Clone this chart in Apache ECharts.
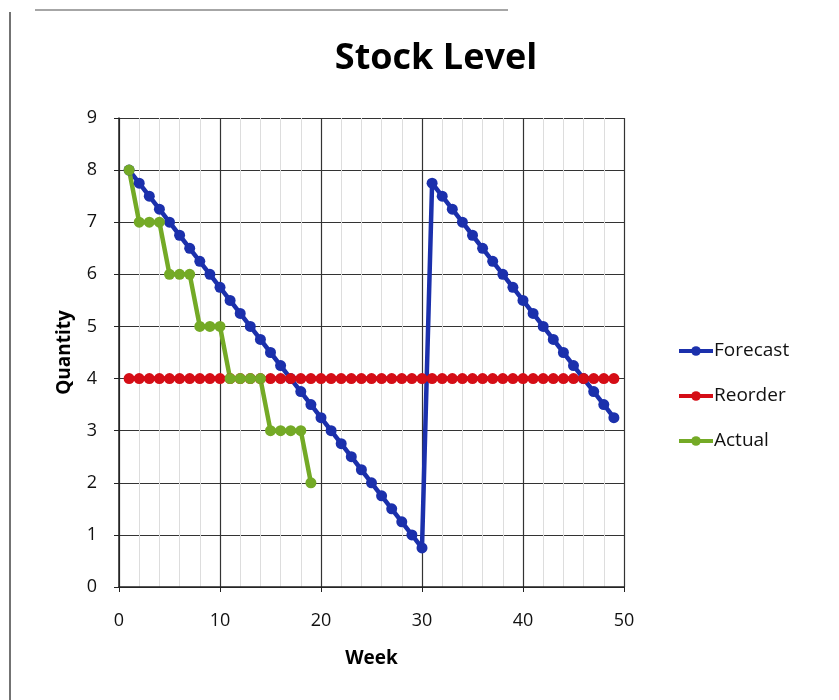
<!DOCTYPE html>
<html><head><meta charset="utf-8">
<script src="https://cdn.jsdelivr.net/npm/echarts@6/dist/echarts.min.js"></script>
<style>html,body{margin:0;padding:0;background:#fff;}#c{width:839px;height:700px;}</style>
</head><body><div id="c"></div>
<script>
const weeks = [1,2,3,4,5,6,7,8,9,10,11,12,13,14,15,16,17,18,19,20,21,22,23,24,25,26,27,28,29,30,31,32,33,34,35,36,37,38,39,40,41,42,43,44,45,46,47,48,49];
const forecast = [8,7.75,7.5,7.25,7,6.75,6.5,6.25,6,5.75,5.5,5.25,5,4.75,4.5,4.25,4,3.75,3.5,3.25,3,2.75,2.5,2.25,2,1.75,1.5,1.25,1,0.75,7.75,7.5,7.25,7,6.75,6.5,6.25,6,5.75,5.5,5.25,5,4.75,4.5,4.25,4,3.75,3.5,3.25];
const reorder = [4,4,4,4,4,4,4,4,4,4,4,4,4,4,4,4,4,4,4,4,4,4,4,4,4,4,4,4,4,4,4,4,4,4,4,4,4,4,4,4,4,4,4,4,4,4,4,4,4];
const actualWeeks = [1,2,3,4,5,6,7,8,9,10,11,12,13,14,15,16,17,18,19];
const actual = [8,7,7,7,6,6,6,5,5,5,4,4,4,4,3,3,3,3,2];
const xTicks = [0,10,20,30,40,50];
const yTicks = [0,1,2,3,4,5,6,7,8,9];

const pair = (xs, ys) => xs.map((x, i) => [x, ys[i]]);
const font = '"Open Sans", "Noto Sans", "DejaVu Sans", sans-serif';
const chart = echarts.init(document.getElementById('c'));
chart.setOption({
  backgroundColor: '#fff',
  animation: false,
  textStyle: {fontFamily: font},
  title: {text: 'Stock Level', left: 431, top: 36, textAlign: 'center',
    textStyle: {fontSize: 36, fontWeight: 'bold', color: '#000', fontFamily: font}},
  grid: {left: 119, right: 215, top: 118, bottom: 113},
  legend: {orient: 'vertical', left: 672, top: 333, itemGap: 19, itemWidth: 34, itemHeight: 12,
    lineStyle: {width: 4},
    textStyle: {fontSize: 19, color: '#111', fontFamily: font, padding: [0,0,0,-4], lineHeight: 26},
    data: ['Forecast','Reorder','Actual']},
  xAxis: {type: 'value', min: xTicks[0], max: xTicks[xTicks.length - 1], interval: 10, name: 'Week', nameLocation: 'middle', nameGap: 62,
    nameTextStyle: {fontSize: 19, fontWeight: 'bold', color: '#000', fontFamily: font},
    axisLine: {lineStyle: {color: '#222', width: 1.5}}, axisTick: {show: true, length: 5, lineStyle: {color: '#222'}},
    axisLabel: {fontSize: 18, color: '#111', margin: 25, fontFamily: font},
    splitLine: {show: true, lineStyle: {color: '#333', width: 1.2}},
    minorTick: {show: false, splitNumber: 5},
    minorSplitLine: {show: true, lineStyle: {color: '#ddd', width: 1}}},
  yAxis: {type: 'value', min: yTicks[0], max: yTicks[yTicks.length - 1], interval: 1, name: 'Quantity', nameLocation: 'middle', nameGap: 45,
    nameTextStyle: {fontSize: 19, fontWeight: 'bold', color: '#000', fontFamily: font},
    axisLine: {show: true, lineStyle: {color: '#222', width: 1.5}}, axisTick: {show: true, length: 5, lineStyle: {color: '#222'}},
    axisLabel: {fontSize: 18, color: '#111', margin: 22, fontFamily: font},
    splitLine: {show: true, lineStyle: {color: '#333', width: 1.2}}},
  graphic: [
    {type: 'line', shape: {x1: 10, y1: 12, x2: 10, y2: 700}, style: {stroke: '#444', lineWidth: 1.5}},
    {type: 'line', shape: {x1: 35, y1: 10, x2: 508, y2: 10}, style: {stroke: '#888', lineWidth: 1.5}}
  ],
  series: [
    {name: 'Forecast', type: 'line', data: pair(weeks, forecast), symbol: 'circle', symbolSize: 11,
      lineStyle: {color: '#1b30ac', width: 4.5}, itemStyle: {color: '#1b30ac'}},
    {name: 'Reorder', type: 'line', data: pair(weeks, reorder), symbol: 'circle', symbolSize: 11,
      lineStyle: {color: '#d50d16', width: 4.5}, itemStyle: {color: '#d50d16'}},
    {name: 'Actual', type: 'line', data: pair(actualWeeks, actual), symbol: 'circle', symbolSize: 11,
      lineStyle: {color: '#74aa26', width: 4.5}, itemStyle: {color: '#74aa26'}}
  ]
});
</script></body></html>
